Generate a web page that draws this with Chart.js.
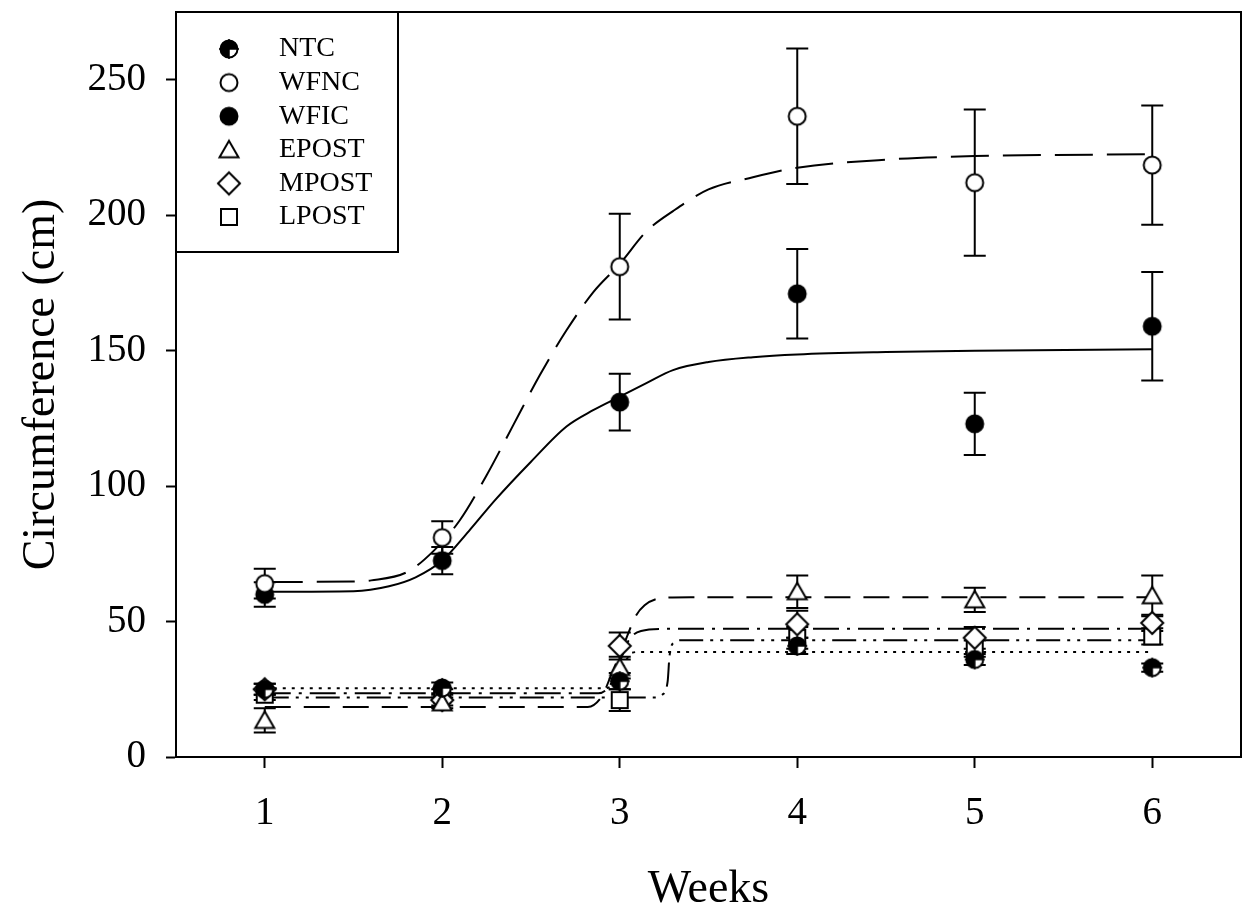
<!DOCTYPE html>
<html>
<head>
<meta charset="utf-8">
<script src="https://cdn.jsdelivr.net/npm/chart.js@4.4.1/dist/chart.umd.min.js"></script>
<style>
  body { margin: 0; background: #fff; }
  #wrap { width: 1246px; height: 916px; }
</style>
</head>
<body>
<div id="wrap"><canvas id="growth-chart" width="1246" height="916"></canvas></div>
<script>
// State
var weeks = [1, 2, 3, 4, 5, 6];
var yTicks = [0, 50, 100, 150, 200, 250];
var groups = ["NTC", "WFNC", "WFIC", "EPOST", "MPOST", "LPOST"];

// group means and error
var ntcMean = [25, 25.5, 28, 41, 36, 33];
var ntcErr = [2, 2, 3, 3, 2, 1.5];
var wfncMean = [64, 81, 181, 236.5, 212, 218.5];
var wfncErr = [5.5, 6, 19.5, 25, 27, 22];
var wficMean = [60, 72.5, 131, 171, 123, 159];
var wficErr = [4.5, 5, 10.5, 16.5, 11.5, 20];
var epostMean = [13.5, 20, 33, 61, 58, 59.5];
var epostErr = [4.5, 2, 4, 6, 4.5, 7.5];
var mpostMean = [25, 21, 41, 49, 44, 49.5];
var mpostErr = [2, 2, 5, 5, 4, 3];
var lpostMean = [23, 23, 21, 44, 40, 44.5];
var lpostErr = [2, 2, 4, 4, 3, 3];

// fitted curves, sampled off the figure (week, circumference)
var wfncFitX = [1, 1.5, 1.6, 1.8, 1.95, 2.1, 2.25, 2.4, 2.55, 2.7, 2.85, 3.0, 3.15, 3.3, 3.5, 3.75, 4.0, 4.5, 5, 6];
var wfncFitY = [64.6, 64.8, 65.2, 68.2, 76, 87.5, 104, 122.5, 141, 157.5, 171.5, 182, 194, 201.5, 209.5, 214, 217.5, 220.5, 221.8, 222.5];
var wficFitX = [1, 1.5, 1.7, 1.85, 2.0, 2.15, 2.3, 2.5, 2.7, 2.85, 3.0, 3.15, 3.3, 3.5, 3.75, 4.0, 4.5, 5, 6];
var wficFitY = [61, 61.2, 63, 66.3, 72.5, 83.4, 95, 109, 122, 128, 133, 138, 142.8, 145.8, 147.6, 148.6, 149.5, 150, 150.5];
var ntcFitX = [1, 2.92, 2.98, 3.03, 3.07, 3.12, 6];
var ntcFitY = [25.4, 25.4, 28, 35, 38.5, 38.8, 38.8];
var epostFitX = [1, 2.82, 2.9, 2.95, 3.02, 3.09, 3.14, 3.23, 3.4, 6];
var epostFitY = [18.5, 18.5, 22.5, 30, 41, 52, 56, 58.6, 59, 59];
var mpostFitX = [1, 2.88, 2.95, 3.0, 3.05, 3.12, 3.25, 6];
var mpostFitY = [23.5, 23.5, 27, 35, 43, 46.5, 47.3, 47.3];
var lpostFitX = [1, 3.2, 3.24, 3.27, 3.28, 3.3, 3.35, 6];
var lpostFitY = [22, 22, 23, 28, 37, 42, 43.1, 43.1];

var serif = "'Liberation Serif', 'Times New Roman', serif";

function points(xs, ys) {
  return xs.map(function (x, i) { return { x: x, y: ys[i] }; });
}

// marker images
function makeMarker(kind) {
  var c = document.createElement("canvas");
  c.width = 28;
  c.height = 28;
  var g = c.getContext("2d");
  g.translate(14, 14);
  g.lineWidth = 2;
  g.strokeStyle = "#000";
  g.beginPath();
  if (kind === "triangle") {
    g.moveTo(0, -9); g.lineTo(9.5, 7.5); g.lineTo(-9.5, 7.5); g.closePath();
  } else if (kind === "diamond") {
    g.moveTo(0, -11); g.lineTo(11, 0); g.lineTo(0, 11); g.lineTo(-11, 0); g.closePath();
  } else if (kind === "square") {
    g.rect(-8, -8, 16, 16);
  } else {
    g.arc(0, 0, 8.5, 0, 2 * Math.PI);
  }
  g.fillStyle = (kind === "dot" || kind === "quarter") ? "#000" : "#fff";
  g.fill();
  g.stroke();
  if (kind === "quarter") {
    // crossed circle with one open quadrant
    g.beginPath();
    g.moveTo(0, 0);
    g.arc(0, 0, 7.5, 0, Math.PI / 2);
    g.closePath();
    g.fillStyle = "#fff";
    g.fill();
    g.beginPath();
    g.moveTo(-10, 0); g.lineTo(10, 0);
    g.moveTo(0, -10); g.lineTo(0, 10);
    g.lineWidth = 1.5;
    g.strokeStyle = "#000";
    g.stroke();
  }
  return c;
}
var markers = ["quarter", "circle", "dot", "triangle", "diamond", "square"].map(makeMarker);

function markerSet(i, means, errs) {
  return {
    type: "scatter",
    label: groups[i],
    data: points(weeks, means),
    errors: errs,
    pointStyle: markers[i],
    pointRadius: 9,
    showLine: false,
    order: 0,
  };
}
function curveSet(label, xs, ys, dash) {
  return {
    type: "line",
    label: label,
    data: points(xs, ys),
    borderColor: "#000",
    borderWidth: 2,
    borderDash: dash,
    pointRadius: 0,
    fill: false,
    cubicInterpolationMode: "monotone",
    order: 1,
  };
}

// error bars under the markers
var errorBars = {
  id: "errorBars",
  beforeDatasetsDraw: function (chart) {
    var ctx = chart.ctx, xs = chart.scales.x, ys = chart.scales.y;
    ctx.save();
    ctx.strokeStyle = "#000";
    ctx.lineWidth = 2;
    chart.data.datasets.forEach(function (ds) {
      if (!ds.errors) return;
      ds.data.forEach(function (p, i) {
        var x = xs.getPixelForValue(p.x);
        var top = ys.getPixelForValue(p.y + ds.errors[i]);
        var bot = ys.getPixelForValue(p.y - ds.errors[i]);
        ctx.beginPath();
        ctx.moveTo(x, top); ctx.lineTo(x, bot);
        ctx.moveTo(x - 11, top); ctx.lineTo(x + 11, top);
        ctx.moveTo(x - 11, bot); ctx.lineTo(x + 11, bot);
        ctx.stroke();
      });
    });
    ctx.restore();
  },
};

// frame and boxed legend
var frameAndLegend = {
  id: "frameAndLegend",
  afterDraw: function (chart) {
    var ctx = chart.ctx, a = chart.chartArea;
    ctx.save();
    ctx.strokeStyle = "#000";
    ctx.lineWidth = 2;
    ctx.fillStyle = "#fff";
    ctx.fillRect(a.left, a.top, 222, 240);
    ctx.strokeRect(a.left, a.top, 222, 240);
    ctx.strokeRect(a.left, a.top, a.right - a.left, a.bottom - a.top);
    ctx.font = "28px " + serif;
    ctx.fillStyle = "#000";
    ctx.textBaseline = "middle";
    groups.forEach(function (name, i) {
      var y = a.top + 37 + i * 33.6;
      var img = markers[i];
      ctx.drawImage(img, a.left + 53 - img.width / 2, y - img.height / 2);
      ctx.fillText(name, a.left + 103, y);
    });
    ctx.restore();
  },
};

// Chart
var ctx = document.getElementById("growth-chart").getContext("2d");
var chart = new Chart(ctx, {
  type: "scatter",
  data: {
    datasets: [
      curveSet("NTC fit", ntcFitX, ntcFitY, [3, 6]),
      curveSet("WFNC fit", wfncFitX, wfncFitY, [38, 14]),
      curveSet("WFIC fit", wficFitX, wficFitY, []),
      curveSet("EPOST fit", epostFitX, epostFitY, [26, 13]),
      curveSet("MPOST fit", mpostFitX, mpostFitY, [26, 8, 3, 8]),
      curveSet("LPOST fit", lpostFitX, lpostFitY, [24, 7, 3, 7, 3, 7]),
      markerSet(0, ntcMean, ntcErr),
      markerSet(1, wfncMean, wfncErr),
      markerSet(2, wficMean, wficErr),
      markerSet(3, epostMean, epostErr),
      markerSet(4, mpostMean, mpostErr),
      markerSet(5, lpostMean, lpostErr),
    ],
  },
  options: {
    responsive: false,
    animation: false,
    layout: { autoPadding: false, padding: { top: 12, right: 5, left: 0, bottom: 0 } },
    plugins: { legend: { display: false }, tooltip: { enabled: false } },
    scales: {
      x: {
        type: "linear",
        min: 0.5,
        max: 6.5,
        afterBuildTicks: function (s) { s.ticks = weeks.map(function (v) { return { value: v }; }); },
        afterFit: function (s) { s.height = 159; s.paddingLeft = 0; s.paddingRight = 0; },
        grid: { drawOnChartArea: false, tickLength: 11, tickWidth: 2, tickColor: "#000" },
        border: { color: "#000", width: 2 },
        ticks: { color: "#000", font: { family: serif, size: 39 }, padding: 22, autoSkip: false, maxRotation: 0 },
        title: { display: true, text: "Weeks", color: "#000", font: { family: serif, size: 46 }, padding: { top: 0, bottom: -2 } },
      },
      y: {
        min: 0,
        max: 275,
        afterBuildTicks: function (s) { s.ticks = yTicks.map(function (v) { return { value: v }; }); },
        afterFit: function (s) { s.width = 176; s.paddingTop = 0; s.paddingBottom = 0; },
        grid: { drawOnChartArea: false, tickLength: 10, tickWidth: 2, tickColor: "#000" },
        border: { color: "#000", width: 2 },
        ticks: { color: "#000", font: { family: serif, size: 39 }, padding: 20 },
        title: { display: true, text: "Circumference (cm)", color: "#000", font: { family: serif, size: 46 }, padding: { top: 14, bottom: 0 } },
      },
    },
  },
  plugins: [errorBars, frameAndLegend],
});
</script>
</body>
</html>
